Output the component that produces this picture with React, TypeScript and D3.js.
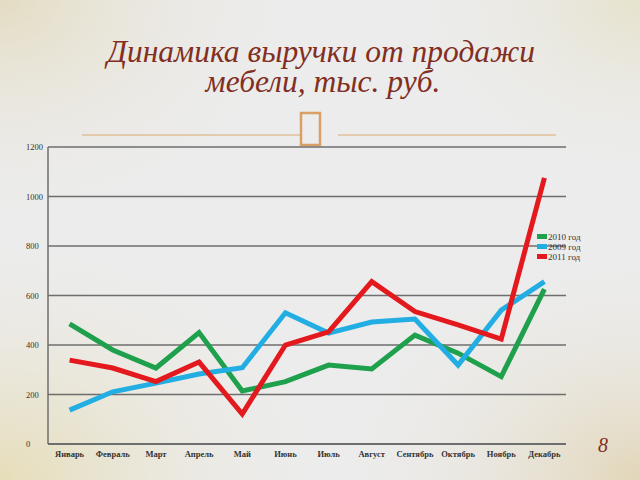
import React from "react";
import * as d3 from "d3";

const months = ["Январь","Февраль","Март","Апрель","Май","Июнь","Июль","Август","Сентябрь","Октябрь","Ноябрь","Декабрь"];
const series2010 = [485, 380, 307, 450, 214, 252, 319, 303, 440, 367, 272, 626];
const series2009 = [137, 211, 246, 283, 308, 530, 448, 493, 505, 319, 541, 656];
const series2011 = [339, 307, 252, 331, 121, 400, 453, 656, 535, 481, 424, 1075];
const seriesNames = ["2010 год", "2009 год", "2011 год"];
const seriesColors = ["#1fa04c", "#23aee3", "#e3191e"];
const yTicks = [0, 200, 400, 600, 800, 1000, 1200];

const W = 640, H = 480;
const left = 48, right = 566, top = 147, bottom = 444;

export default function App() {
  const x = d3.scaleBand<string>().domain(months).range([left, right]);
  const y = d3.scaleLinear().domain([0, 1200]).range([bottom, top]);
  const line = d3.line<number>()
    .x((_, i) => (x(months[i]) as number) + x.bandwidth() / 2)
    .y((d) => y(d));
  const all = [series2010, series2009, series2011];
  return (
    <svg width={W} height={H} style={{ position: "absolute", left: 0, top: 0 }}>
      <defs>
        <radialGradient id="gtl" cx="0" cy="0" r="0.5">
          <stop offset="0" stopColor="#e4dcc2" />
          <stop offset="1" stopColor="#ececec" stopOpacity="0" />
        </radialGradient>
        <radialGradient id="gbl" cx="0" cy="1" r="0.55">
          <stop offset="0" stopColor="#e6ddb8" />
          <stop offset="1" stopColor="#ececec" stopOpacity="0" />
        </radialGradient>
        <radialGradient id="gbr" cx="1" cy="1" r="0.5">
          <stop offset="0" stopColor="#e2d6b8" />
          <stop offset="1" stopColor="#ececec" stopOpacity="0" />
        </radialGradient>
        <radialGradient id="gtr" cx="1" cy="0" r="0.4">
          <stop offset="0" stopColor="#e6e2cc" />
          <stop offset="1" stopColor="#ececec" stopOpacity="0" />
        </radialGradient>
      </defs>
      <rect width={W} height={H} fill="#ececec" />
      <rect width={W} height={H} fill="url(#gtl)" />
      <rect width={W} height={H} fill="url(#gbl)" />
      <rect width={W} height={H} fill="url(#gbr)" />
      <rect width={W} height={H} fill="url(#gtr)" />

      <g fontFamily="'Liberation Serif', serif" fontStyle="italic" fill="#822f22" fontSize={31.5} textAnchor="middle">
        <text x={321} y={62}>Динамика выручки от продажи</text>
        <text x={323} y={92}>мебели, тыс. руб.</text>
      </g>

      <g stroke="#dcaa72" strokeWidth={1.2} fill="none">
        <line x1={82} x2={300} y1={135} y2={135} />
        <line x1={338} x2={556} y1={135} y2={135} />
        <rect x={301} y={113} width={19} height={32} strokeWidth={2.5} stroke="#d9a066" />
      </g>

      <g>
        {yTicks.map((t) => (
          <g key={t}>
            <line x1={left} x2={right} y1={y(t)} y2={y(t)} stroke="#6e6e6e" strokeWidth={t === 0 ? 2 : 1.5} />
            <text x={left - 22} y={y(t) + 3} fontSize={8.5} fontFamily="'Liberation Serif', serif" fill="#333" textAnchor="start">{t}</text>
          </g>
        ))}
        <line x1={left} x2={left} y1={top} y2={bottom} stroke="#6e6e6e" strokeWidth={1.5} />
        {months.map((m) => (
          <text key={m} x={(x(m) as number) + x.bandwidth() / 2} y={457} fontSize={8.5} fontWeight="bold" fontFamily="'Liberation Serif', serif" fill="#333" textAnchor="middle">{m}</text>
        ))}
      </g>

      {all.map((s, i) => (
        <path key={i} d={line(s) as string} fill="none" stroke={seriesColors[i]} strokeWidth={5} strokeLinejoin="miter" />
      ))}

      <g fontFamily="'Liberation Serif', serif" fontSize={9} fill="#333">
        {seriesNames.map((n, i) => (
          <g key={n} transform={`translate(537, ${238 + i * 10})`}>
            <rect x={0} y={-4} width={10} height={5} fill={seriesColors[i]} />
            <text x={11} y={2}>{n}</text>
          </g>
        ))}
      </g>

      <text x={603} y={452} fontSize={20} fontStyle="italic" fontFamily="'Liberation Serif', serif" fill="#822f22" textAnchor="middle">8</text>
    </svg>
  );
}
